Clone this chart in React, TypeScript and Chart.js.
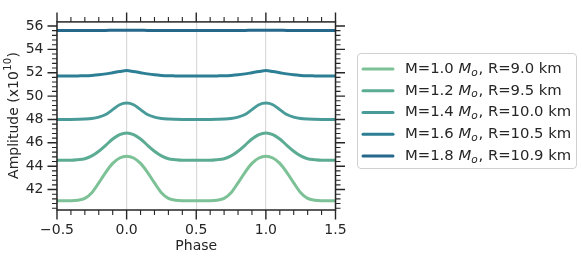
import React, { useEffect, useRef } from "react";
import { Chart, registerables } from "chart.js";

Chart.register(...registerables);

// ---------- data ----------
const phase = [
  -0.5, -0.45, -0.4, -0.35, -0.3, -0.25, -0.2, -0.15, -0.1, -0.05,
  0.0, 0.05, 0.1, 0.15, 0.2, 0.25, 0.3, 0.35, 0.4, 0.45,
  0.5, 0.55, 0.6, 0.65, 0.7, 0.75, 0.8, 0.85, 0.9, 0.95,
  1.0, 1.05, 1.1, 1.15, 1.2, 1.25, 1.3, 1.35, 1.4, 1.45, 1.5,
];

const ampM10 = [
  41.05, 41.05, 41.05, 41.09, 41.24, 41.73, 42.57, 43.48, 44.24, 44.7, 44.85,
  44.7, 44.24, 43.48, 42.57, 41.73, 41.24, 41.09, 41.05, 41.05, 41.05,
  41.05, 41.05, 41.09, 41.24, 41.73, 42.57, 43.48, 44.24, 44.7, 44.85,
  44.7, 44.24, 43.48, 42.57, 41.73, 41.24, 41.09, 41.05, 41.05, 41.05,
];
const ampM12 = [
  44.5, 44.5, 44.5, 44.55, 44.64, 44.88, 45.28, 45.79, 46.33, 46.71, 46.85,
  46.71, 46.33, 45.79, 45.28, 44.88, 44.64, 44.55, 44.5, 44.5, 44.5,
  44.5, 44.5, 44.55, 44.64, 44.88, 45.28, 45.79, 46.33, 46.71, 46.85,
  46.71, 46.33, 45.79, 45.28, 44.88, 44.64, 44.55, 44.5, 44.5, 44.5,
];
const ampM14 = [
  48.0, 48.0, 48.0, 48.01, 48.03, 48.08, 48.2, 48.42, 48.84, 49.26, 49.4,
  49.26, 48.84, 48.42, 48.2, 48.08, 48.03, 48.01, 48.0, 48.0, 48.0,
  48.0, 48.0, 48.01, 48.03, 48.08, 48.2, 48.42, 48.84, 49.26, 49.4,
  49.26, 48.84, 48.42, 48.2, 48.08, 48.03, 48.01, 48.0, 48.0, 48.0,
];
const ampM16 = [
  51.72, 51.72, 51.72, 51.73, 51.74, 51.77, 51.82, 51.9, 52.0, 52.1, 52.18,
  52.1, 52.0, 51.9, 51.82, 51.77, 51.74, 51.73, 51.72, 51.72, 51.72,
  51.72, 51.72, 51.73, 51.74, 51.77, 51.82, 51.9, 52.0, 52.1, 52.18,
  52.1, 52.0, 51.9, 51.82, 51.77, 51.74, 51.73, 51.72, 51.72, 51.72,
];
const ampM18 = [
  55.62, 55.62, 55.62, 55.62, 55.62, 55.62, 55.62, 55.62, 55.63, 55.63, 55.63,
  55.63, 55.63, 55.62, 55.62, 55.62, 55.62, 55.62, 55.62, 55.62, 55.62,
  55.62, 55.62, 55.62, 55.62, 55.62, 55.62, 55.62, 55.63, 55.63, 55.63,
  55.63, 55.63, 55.62, 55.62, 55.62, 55.62, 55.62, 55.62, 55.62, 55.62,
];

const massLabels = ["1.0", "1.2", "1.4", "1.6", "1.8"];
const radiusLabels = ["9.0", "9.5", "10.0", "10.5", "10.9"];
const seriesColors = ["#7dc196", "#5cac94", "#489b98", "#2c7f94", "#26678c"];

const xMajorTicks = [-0.5, 0.0, 0.5, 1.0, 1.5];
const xMinorTicks = [
  -0.4, -0.3, -0.2, -0.1, 0.1, 0.2, 0.3, 0.4, 0.6, 0.7, 0.8, 0.9, 1.1, 1.2, 1.3, 1.4,
];
const yMajorTicks = [42, 44, 46, 48, 50, 52, 54, 56];
const yMinorTicks = [
  40.4, 40.8, 41.2, 41.6, 42.4, 42.8, 43.2, 43.6, 44.4, 44.8, 45.2, 45.6,
  46.4, 46.8, 47.2, 47.6, 48.4, 48.8, 49.2, 49.6, 50.4, 50.8, 51.2, 51.6,
  52.4, 52.8, 53.2, 53.6, 54.4, 54.8, 55.2, 55.6,
];

const allSeries = [ampM10, ampM12, ampM14, ampM16, ampM18];

// ---------- style ----------
const FONT = "'DejaVu Sans', 'Liberation Sans', sans-serif";
const INK = "#262626";
const MAJOR_LEN = 9.5;
const MINOR_LEN = 5;
const LEG = 14.8;

const framePlugin = {
  id: "frame",
  afterDraw(chart: any) {
    const { ctx, chartArea } = chart;
    const { left, right, top, bottom } = chartArea;
    const xs = chart.scales.x;
    const ys = chart.scales.y;
    ctx.save();
    ctx.strokeStyle = INK;
    ctx.lineCap = "butt";

    const drawX = (vals: number[], len: number, lw: number) => {
      ctx.lineWidth = lw;
      ctx.beginPath();
      vals.forEach((v) => {
        const px = xs.getPixelForValue(v);
        ctx.moveTo(px, bottom);
        ctx.lineTo(px, bottom + len);
        ctx.moveTo(px, top);
        ctx.lineTo(px, top - len);
      });
      ctx.stroke();
    };
    const drawY = (vals: number[], len: number, lw: number) => {
      ctx.lineWidth = lw;
      ctx.beginPath();
      vals.forEach((v) => {
        const py = ys.getPixelForValue(v);
        ctx.moveTo(left, py);
        ctx.lineTo(left - len, py);
        ctx.moveTo(right, py);
        ctx.lineTo(right + len, py);
      });
      ctx.stroke();
    };
    drawX(xMajorTicks, MAJOR_LEN, 1.4);
    drawX(xMinorTicks, MINOR_LEN, 1.1);
    drawY(yMajorTicks, MAJOR_LEN, 1.4);
    drawY(yMinorTicks, MINOR_LEN, 1.1);

    // spines
    ctx.lineWidth = 1.5;
    ctx.strokeRect(left, top, right - left, bottom - top);

    // y-axis title with superscript
    ctx.fillStyle = INK;
    ctx.save();
    ctx.translate(14, (top + bottom) / 2);
    ctx.rotate(-Math.PI / 2);
    ctx.textBaseline = "middle";
    ctx.textAlign = "left";
    const mainFont = `14px ${FONT}`;
    const supFont = `10px ${FONT}`;
    const p1 = "Amplitude (x10";
    const p2 = "10";
    const p3 = ")";
    ctx.font = mainFont;
    const w1 = ctx.measureText(p1).width;
    const w3 = ctx.measureText(p3).width;
    ctx.font = supFont;
    const w2 = ctx.measureText(p2).width;
    let cx = -(w1 + w2 + w3) / 2;
    ctx.font = mainFont;
    ctx.fillText(p1, cx, 0);
    cx += w1;
    ctx.font = supFont;
    ctx.fillText(p2, cx + 0.5, -5.5);
    cx += w2 + 1;
    ctx.font = mainFont;
    ctx.fillText(p3, cx, 0);
    ctx.restore();

    // legend
    const bx = 357.5, by = 53.5, bw = 219, bh = 115, r = 3.5;
    ctx.beginPath();
    ctx.moveTo(bx + r, by);
    ctx.lineTo(bx + bw - r, by);
    ctx.quadraticCurveTo(bx + bw, by, bx + bw, by + r);
    ctx.lineTo(bx + bw, by + bh - r);
    ctx.quadraticCurveTo(bx + bw, by + bh, bx + bw - r, by + bh);
    ctx.lineTo(bx + r, by + bh);
    ctx.quadraticCurveTo(bx, by + bh, bx, by + bh - r);
    ctx.lineTo(bx, by + r);
    ctx.quadraticCurveTo(bx, by, bx + r, by);
    ctx.closePath();
    ctx.fillStyle = "rgba(255,255,255,0.85)";
    ctx.fill();
    ctx.strokeStyle = "#d0d0d0";
    ctx.lineWidth = 1;
    ctx.stroke();

    ctx.textBaseline = "middle";
    ctx.textAlign = "left";
    massLabels.forEach((m, i) => {
      const yc = 69 + i * 21.75;
      ctx.strokeStyle = seriesColors[i];
      ctx.lineWidth = 3;
      ctx.lineCap = "round";
      ctx.beginPath();
      ctx.moveTo(363, yc);
      ctx.lineTo(393, yc);
      ctx.stroke();

      ctx.fillStyle = INK;
      let tx = 405;
      const a = `M=${m} `;
      ctx.font = `${LEG}px ${FONT}`;
      ctx.fillText(a, tx, yc);
      tx += ctx.measureText(a).width;
      ctx.font = `italic ${LEG}px ${FONT}`;
      ctx.fillText("M", tx, yc);
      tx += ctx.measureText("M").width;
      ctx.font = `italic ${LEG * 0.72}px ${FONT}`;
      ctx.fillText("o", tx, yc + 3.8);
      tx += ctx.measureText("o").width + 0.8;
      ctx.font = `${LEG}px ${FONT}`;
      ctx.fillText(`, R=${radiusLabels[i]} km`, tx, yc);
    });

    ctx.restore();
  },
};

export default function App() {
  const canvasRef = useRef<HTMLCanvasElement | null>(null);

  useEffect(() => {
    document.body.style.margin = "0";
    const canvas = canvasRef.current;
    if (!canvas) return;

    const fmtX = (v: number) =>
      v < 0 ? "\u2212" + Math.abs(v).toFixed(1) : v.toFixed(1);

    const chart = new Chart(canvas, {
      type: "line",
      data: {
        datasets: allSeries.map((s, i) => ({
          label: `M=${massLabels[i]}`,
          data: phase.map((p, j) => ({ x: p, y: s[j] })),
          borderColor: seriesColors[i],
          backgroundColor: seriesColors[i],
          borderWidth: 3,
          pointRadius: 0,
          fill: false,
          cubicInterpolationMode: "monotone",
          borderCapStyle: "round",
          borderJoinStyle: "round",
        })),
      },
      options: {
        responsive: false,
        animation: false,
        devicePixelRatio: 1,
        layout: { padding: { top: 15.5, right: 246.5, left: 0, bottom: 0 } },
        plugins: {
          legend: { display: false },
          tooltip: { enabled: false },
        },
        scales: {
          x: {
            type: "linear",
            min: -0.5,
            max: 1.5,
            afterBuildTicks: (scale: any) => {
              scale.ticks = xMajorTicks.map((v) => ({ value: v }));
            },
            afterFit: (scale: any) => {
              scale.height = 50;
            },
            border: { display: false },
            grid: {
              display: true,
              drawOnChartArea: true,
              drawTicks: false,
              color: "#dadada",
              lineWidth: 1.2,
            },
            ticks: {
              autoSkip: false,
              maxRotation: 0,
              padding: 11.5,
              color: INK,
              font: { family: FONT, size: 14 },
              callback: (v: any) => fmtX(Number(v)),
            },
            title: {
              display: true,
              text: "Phase",
              color: INK,
              font: { family: FONT, size: 14 },
              padding: { top: 0, bottom: 5 },
            },
          },
          y: {
            type: "linear",
            min: 40.25,
            max: 56.35,
            afterBuildTicks: (scale: any) => {
              scale.ticks = yMajorTicks.map((v) => ({ value: v }));
            },
            afterFit: (scale: any) => {
              scale.width = 57;
            },
            border: { display: false },
            grid: { display: false, drawTicks: false },
            ticks: {
              padding: 13.5,
              color: INK,
              font: { family: FONT, size: 14 },
              callback: (v: any) => String(Math.round(Number(v))),
            },
          },
        },
      },
      plugins: [framePlugin],
    } as any);

    return () => chart.destroy();
  }, []);

  return (
    <div style={{ width: 582, height: 260, position: "relative" }}>
      <canvas ref={canvasRef} width={582} height={260} style={{ display: "block" }} />
    </div>
  );
}
